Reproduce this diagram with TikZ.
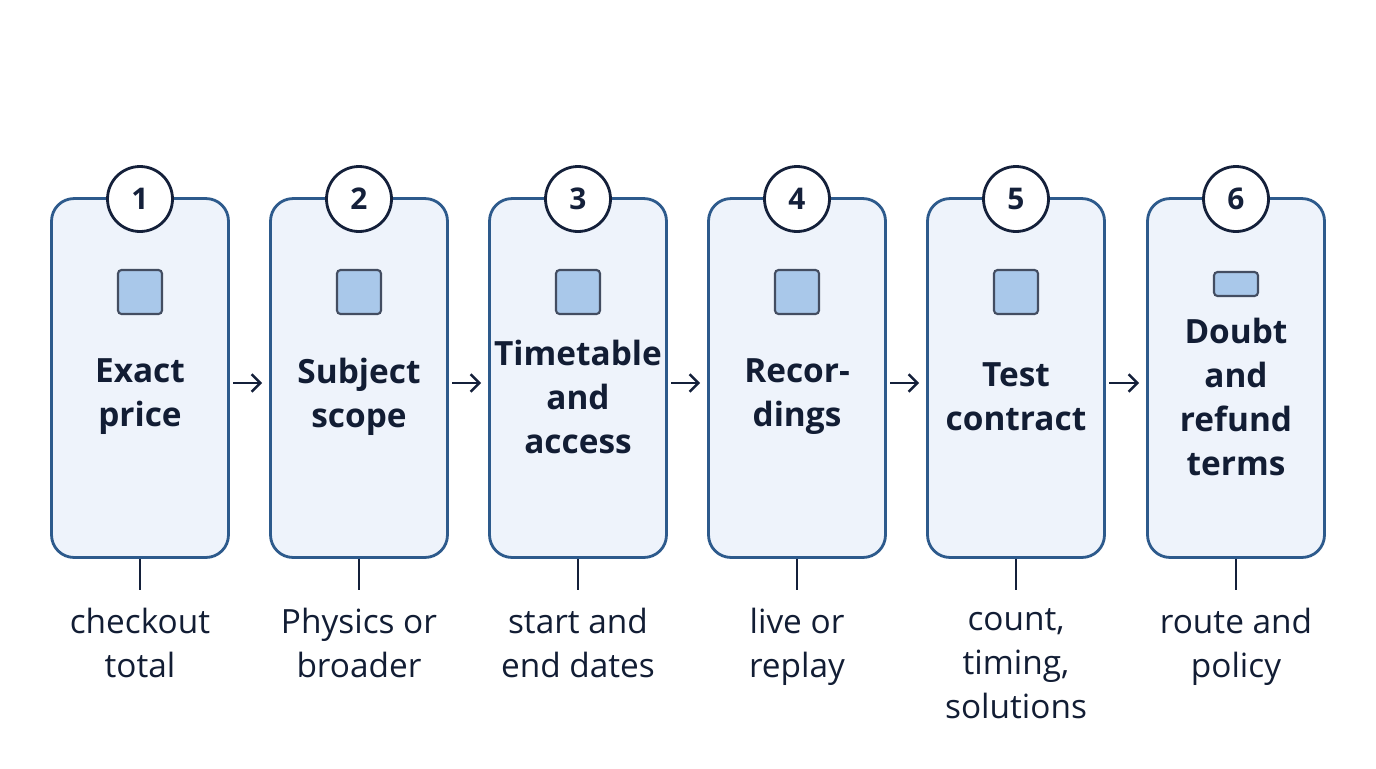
\documentclass[tikz,border=0pt]{standalone}
\usepackage{fontspec}
\setmainfont{Open Sans}
\usetikzlibrary{arrows.meta}
\definecolor{boxfill}{HTML}{EEF3FB}
\definecolor{boxline}{HTML}{2D5A8C}
\definecolor{sqfill}{HTML}{A9C8EA}
\definecolor{navy}{HTML}{14203A}
\tikzset{
  stage/.style={draw=boxline, line width=1.6pt, fill=boxfill, rounded corners=0.45cm,
    minimum width=3.54cm, minimum height=7.18cm},
  num/.style={circle, draw=navy, line width=1.6pt, fill=white, minimum size=1.3cm,
    font=\bfseries\fontsize{17}{20}\selectfont, text=navy},
  icon/.style={draw=navy!80, line width=1.2pt, fill=sqfill, rounded corners=2pt,
    minimum width=0.88cm, minimum height=0.88cm},
  title/.style={align=center, font=\bfseries\fontsize{19}{25}\selectfont, text=navy!90!black},
  note/.style={align=center, anchor=north, font=\fontsize{19}{25}\selectfont, text=navy!90!black},
  flow/.style={-{Straight Barb[length=5pt,width=10pt]}, line width=1.4pt, draw=navy, shorten <=2pt, shorten >=4pt},
}
\begin{document}
\begin{tikzpicture}[x=0.02cm,y=-0.02cm]
\useasboundingbox (0,0) rectangle (1376,768);
\foreach \i/\x/\t/\n in {1/140/{Exact\\price}/{checkout\\total},
  2/359/{Subject\\scope}/{Physics or\\broader},
  3/578/{Timetable\\and\\access}/{start and\\end dates},
  4/797/{Recor-\\dings}/{live or\\replay},
  5/1016/{Test\\contract}/{count,\\timing,\\solutions},
  6/1236/{Doubt\\and\\refund\\terms}/{route and\\policy}} {
  \node[stage] (box\i) at (\x,378) {};
  \node[num] (num\i) at (\x,199) {\i};
  \node[title] (title\i) at (\x,397) {\t};
  \coordinate (tick\i) at (\x,590);
  \draw[navy, line width=1.4pt] (box\i.south) -- (tick\i);
  \node[note] (note\i) at (\x,602) {\n};
}
% small icons
\foreach \i/\x in {1/140,2/359,3/578,4/797,5/1016}
  \node[icon] (icon\i) at (\x,292) {};
\node[icon, minimum height=0.48cm] (icon6) at (1236,284) {};
% arrows
\foreach \i/\j in {1/2,2/3,3/4,4/5,5/6}
  \draw[flow] (box\i.east |- 0,383) -- (box\j.west |- 0,383);
\end{tikzpicture}
\end{document}
